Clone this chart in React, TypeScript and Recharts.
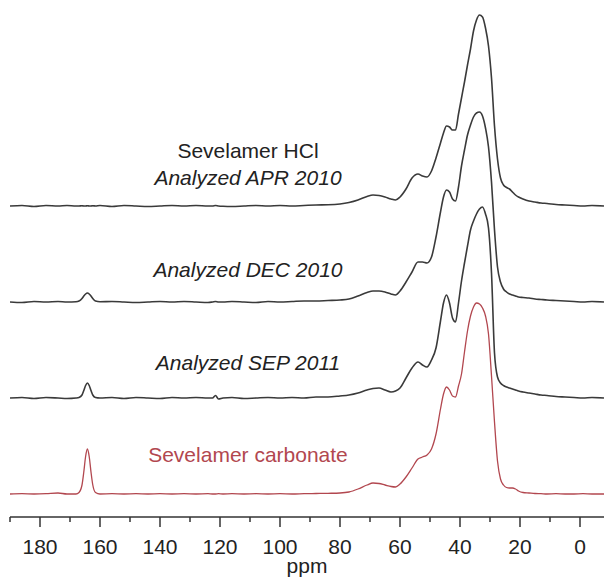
import { Line, LineChart, XAxis, YAxis } from "recharts";

// chemical shift grid (ppm), descending
const ppm = [
  190, 186, 182, 178, 174, 171, 168, 167, 166, 165.4,
  164.8, 164.2, 163.6, 163, 162.4, 161.5, 160, 156, 152, 148,
  144, 140, 136, 132, 128, 124, 122.5, 121.5, 120.5, 119,
  116, 112, 108, 104, 100, 96, 92, 88, 84, 80,
  77, 74, 71, 69, 67, 65, 63, 61.5, 60, 58,
  56, 54, 52.5, 51, 49.5, 48, 46.5, 45.5, 44.5, 43.5,
  42.5, 41.5, 40.5, 39.5, 38.5, 37.5, 36.5, 35.5, 34.5, 33.5,
  32.5, 31.5, 30.5, 29.5, 28.5, 27.5, 26.5, 25.5, 24.5, 23.5,
  22.5, 21.5, 20.5, 19, 17, 15, 13, 11, 8, 5,
  2, -1, -4, -8,
];

// intensities
const apr2010 = [
  0, 0.5, -0.5, 0.5, 0, 0.5, 0, 0, 0.3, 0,
  0, 0.3, 0, 0, 0.3, 0, 0.5, -0.5, 0.5, 0,
  -0.5, 0, 0.5, 0, 0.5, 0, 0, 0.5, 0, -0.3,
  -0.5, 0, 0.5, 0, 0.5, 0, 0.5, 1, 1.2, 2,
  3.5, 6, 9.5, 11, 10.5, 9, 7, 6, 9, 17,
  28, 32, 30, 29, 35, 48, 63, 73, 80, 79,
  76, 76, 92, 108, 124, 141, 157, 175, 186, 191,
  189, 178, 160, 128, 80, 47, 28, 21, 18.5, 17,
  14, 11, 9, 7, 5, 4, 3, 2.5, 1.5, 1,
  0.5, 0, 0.5, 0,
];

const dec2010 = [
  0, -0.5, 0.5, 0, 0.5, 0, 0.3, 1, 3.5, 6,
  8, 9, 8, 6, 3.5, 1, 0.3, 0.5, 0, -0.5,
  0, 0.5, 0, 0.5, 0, -0.5, 0, 0.5, 0, 0,
  0.5, 0, -0.5, 0.5, 0, 0.5, 1, 1, 1.5, 2,
  3, 6, 9.5, 11, 11, 10, 8, 7, 11, 20,
  30, 40, 40, 39, 45, 65, 90, 105, 112, 110,
  103, 101, 115, 136, 152, 167, 177, 185, 189, 190,
  186, 174, 155, 120, 72, 35, 20, 13, 10, 8,
  7, 6, 5, 4.5, 4, 3, 2.5, 2, 1.5, 1,
  0.5, 0, 0.5, 0,
];

const sep2011 = [
  0, 0.5, -0.5, 0.5, 0, -0.5, 0, 0.5, 3, 7.5,
  12.5, 15, 12.5, 7.5, 3, 0.5, 0, 0.5, -0.5, 0.5,
  0, -0.5, 0.5, 0, 0.5, 0, 0, 2.5, -1, 0,
  0.5, -0.5, 0, 0.5, 0, 0.5, 0, 1, 1, 2,
  3, 5, 8, 9.5, 10, 8, 6, 7, 10, 20,
  30, 36, 33, 31, 38, 50, 77, 95, 103, 95,
  80, 76, 95, 117, 135, 152, 168, 177, 184, 189,
  191, 184, 170, 125, 45, 21, 15, 12.5, 11, 10,
  9, 8, 7, 6, 5, 4, 3, 2.5, 1.5, 1,
  0.5, 0, 0.5, 0,
];

const carbonate = [
  0, 0.3, 0, 0.3, 1, 0, 0, 1.5, 9, 22,
  37.5, 45, 37.5, 22, 9, 1.5, 0, 0.3, 0, 0.3,
  0, 0.3, 0, 0.3, 0, 0.3, 0, 0, 0.3, 0,
  0.3, 0, 0.3, 0, 0.3, 0, 0.3, 0.5, 0.7, 1,
  2, 5, 9, 11, 10.5, 9, 7.5, 7, 10, 17,
  26, 35, 37, 39, 45, 60, 85, 100, 107, 104,
  98, 97, 108, 120, 142, 163, 178, 187, 191, 190,
  186, 178, 160, 118, 72, 33, 15, 9, 6.5, 6,
  6, 5, 3, 1.5, 1, 0.5, 0.3, 0, 0.3, 0,
  0, 0.3, 0, 0,
];

const tickValues = [190, 180, 170, 160, 150, 140, 130, 120, 110, 100, 90, 80, 70, 60, 50, 40, 30, 20, 10, 0];

// vertical stacking of the traces
const offsets = { apr: 311, dec: 215, sep: 119, carb: 23 };

const rows = ppm.map((p, i) => ({
  ppm: p,
  apr: apr2010[i] + offsets.apr,
  dec: dec2010[i] + offsets.dec,
  sep: sep2011[i] + offsets.sep,
  carb: carbonate[i] + offsets.carb,
}));

const FONT = "'Liberation Sans', Arial, sans-serif";
const GREY = "#3a3a3a";
const RED = "#b2474f";

function PpmTick({ x, y, payload }: any) {
  const major = payload.value % 20 === 0;
  return (
    <g>
      <line x1={x} x2={x} y1={y} y2={y + (major ? 10 : 5)} stroke="#333" strokeWidth={1.5} />
      {major && (
        <text x={x} y={y + 37} textAnchor="middle" fontSize={21} fill="#222" fontFamily={FONT}>
          {payload.value}
        </text>
      )}
    </g>
  );
}

export default function App() {
  return (
    <div style={{ position: "relative", width: 604, height: 578, background: "#fff" }}>
      <style>{"body{margin:0}"}</style>
      <LineChart width={604} height={578} data={rows} margin={{ top: 0, right: 0, bottom: 0, left: 10 }}>
        <XAxis
          type="number"
          dataKey="ppm"
          domain={[-8, 190]}
          reversed
          ticks={tickValues}
          interval={0}
          height={61}
          tickSize={0}
          tickMargin={0}
          tickLine={false}
          tick={<PpmTick />}
          axisLine={{ stroke: "#333", strokeWidth: 1.5 }}
        />
        <YAxis hide type="number" domain={[0, 517]} />
        <Line type="monotone" dataKey="apr" stroke={GREY} strokeWidth={1.6} dot={false} isAnimationActive={false} />
        <Line type="monotone" dataKey="dec" stroke={GREY} strokeWidth={1.6} dot={false} isAnimationActive={false} />
        <Line type="monotone" dataKey="sep" stroke={GREY} strokeWidth={1.6} dot={false} isAnimationActive={false} />
        <Line type="monotone" dataKey="carb" stroke={RED} strokeWidth={1.3} dot={false} isAnimationActive={false} />
      </LineChart>
      <svg
        width={604}
        height={578}
        style={{ position: "absolute", left: 0, top: 0, pointerEvents: "none" }}
        fontFamily={FONT}
        fontSize={21}
        textAnchor="middle"
      >
        <text x={248} y={158} fill="#222">Sevelamer HCl</text>
        <text x={248} y={185} fill="#222" fontStyle="italic">Analyzed APR 2010</text>
        <text x={248} y={277} fill="#222" fontStyle="italic">Analyzed DEC 2010</text>
        <text x={248} y={370} fill="#222" fontStyle="italic">Analyzed SEP 2011</text>
        <text x={248} y={462} fill={RED}>Sevelamer carbonate</text>
        <text x={307} y={573} fill="#222">ppm</text>
      </svg>
    </div>
  );
}
